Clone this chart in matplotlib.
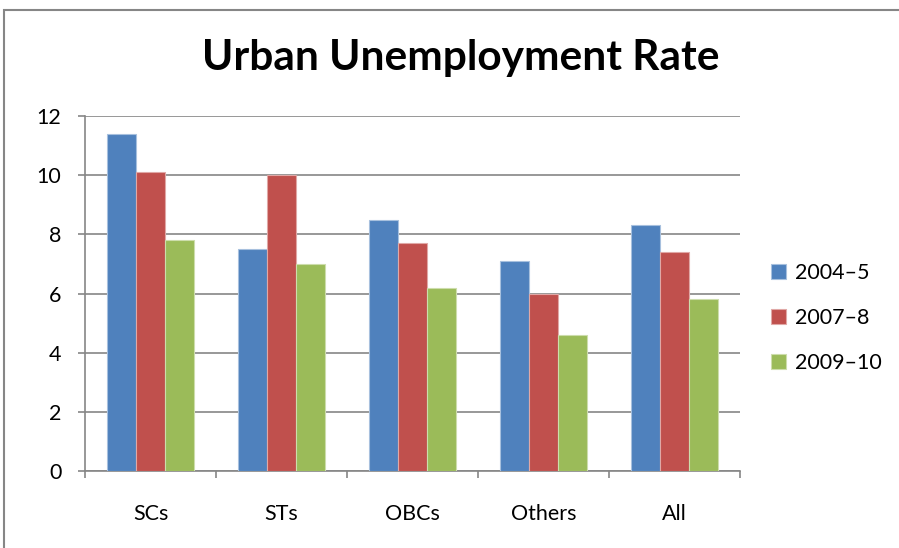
import matplotlib
matplotlib.use('Agg')
import matplotlib.pyplot as plt
import numpy as np
from matplotlib.patches import Rectangle

# Data
categories = ['SCs', 'STs', 'OBCs', 'Others', 'All']
series_names = ['2004\u20135', '2007\u20138', '2009\u201310']
vals_2004 = [11.4, 7.5, 8.5, 7.1, 8.3]
vals_2007 = [10.1, 10.0, 7.7, 6.0, 7.4]
vals_2009 = [7.8, 7.0, 6.2, 4.6, 5.8]
colors = ['#4F81BD', '#C0504D', '#9BBB59']
edges = ['#A7C0DE', '#E0A8A6', '#CDDDAC']

plt.rcParams['font.family'] = ['Lato', 'DejaVu Sans']

W, H = 899, 548
fig = plt.figure(figsize=(W / 100, H / 100), dpi=100)
fig.patch.set_facecolor('white')

# outer chart border
fig.add_artist(Rectangle((4 / W, -0.1), 1.2, 1.1 - 10 / H, transform=fig.transFigure,
                         fill=False, edgecolor='#868686', linewidth=1.5, clip_on=False))

ax = fig.add_axes([85 / W, 1 - 471 / H, (740 - 85) / W, (471 - 116) / H])

x = np.arange(len(categories))
bw = 0.22
for i, vals in enumerate([vals_2004, vals_2007, vals_2009]):
    ax.bar(x + (i - 1) * bw, vals, width=bw, color=colors[i], edgecolor=edges[i],
           linewidth=0.8, label=series_names[i], zorder=3)

ax.set_xlim(-0.5, len(categories) - 0.5)
ax.set_ylim(0, 12)
ax.set_yticks(range(0, 13, 2))
ax.set_xticks(x)
ax.set_xticklabels(categories, fontsize=15.5)
ax.tick_params(axis='x', length=0, pad=24)
ax.set_xticks(np.arange(-0.5, len(categories)), minor=True)
ax.tick_params(axis='x', which='minor', length=5, color='#868686', width=1.2)
ax.tick_params(axis='y', length=5, color='#868686', width=1.2, labelsize=15.5, pad=12)
ax.grid(axis='y', color='#868686', linewidth=1.2, zorder=0)
for s in ['top', 'right']:
    ax.spines[s].set_visible(False)
for s in ['left', 'bottom']:
    ax.spines[s].set_color('#868686')
    ax.spines[s].set_linewidth(1.2)

fig.text(461 / W, 1 - 58 / H, 'Urban Unemployment Rate', ha='center', va='center',
         fontsize=30.5, fontweight='bold')

leg = ax.legend(loc='center left', bbox_to_anchor=(752 / W, 1 - 318 / H),
                bbox_transform=fig.transFigure, frameon=False, fontsize=15.5,
                handlelength=0.7, handleheight=0.7, handletextpad=0.4,
                labelspacing=1.15)

fig.savefig('out.png', dpi=100)
